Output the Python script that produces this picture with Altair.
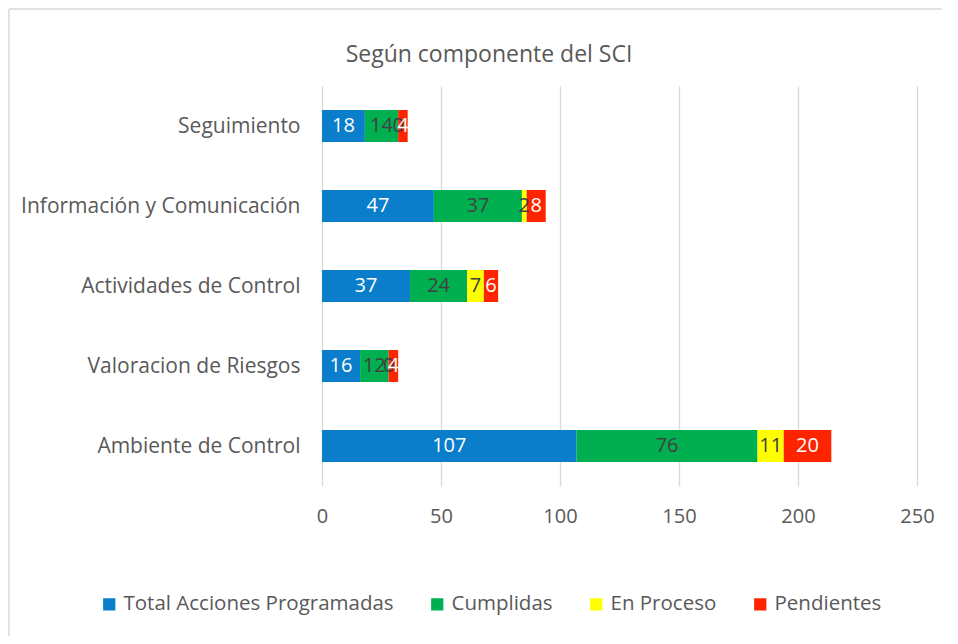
import altair as alt
import pandas as pd

categories = ["Seguimiento", "Información y Comunicación", "Actividades de Control",
              "Valoracion de Riesgos", "Ambiente de Control"]
series = ["Total Acciones Programadas", "Cumplidas", "En Proceso", "Pendientes"]
total = [18, 47, 37, 16, 107]
cumplidas = [14, 37, 24, 12, 76]
en_proceso = [0, 2, 7, 0, 11]
pendientes = [4, 8, 6, 4, 20]
colors = ["#0A7DCB", "#00B050", "#FFFF00", "#FF2400"]
label_colors = ["#FFFFFF", "#404040", "#404040", "#FFFFFF"]
x_ticks = [0, 50, 100, 150, 200, 250]
title_text = ["Según componente del SCI"]

rows = []
for i, c in enumerate(categories):
    for j, (s, v) in enumerate(zip(series, [total[i], cumplidas[i], en_proceso[i], pendientes[i]])):
        rows.append({"cat": c, "serie": s, "valor": v, "ord": j, "lc": label_colors[j]})
df = pd.DataFrame(rows)

FONT = "Open Sans"
GRAY = "#595959"

base = alt.Chart(df).transform_stack(
    stack="valor", groupby=["cat"], sort=[alt.SortField("ord")], as_=["x0", "x1"]
).transform_calculate(mid="(datum.x0 + datum.x1) / 2")

y_enc = alt.Y("cat:N", sort=categories, title=None,
              scale=alt.Scale(paddingInner=0.6, paddingOuter=0.3),
              axis=alt.Axis(domain=False, ticks=False, labelFontSize=21, labelColor=GRAY,
                            labelFont=FONT, labelPadding=22, labelLimit=400, labelOffset=1))
x_scale = alt.Scale(domain=[0, 250], nice=False)

bars = base.mark_bar().encode(
    x=alt.X("x0:Q", scale=x_scale, title=None,
            axis=alt.Axis(values=x_ticks, domain=False, ticks=False, grid=True,
                          gridColor="#D9D9D9", gridWidth=1.3, labelFontSize=20,
                          labelColor=GRAY, labelFont=FONT, labelPadding=20,
                          labelFlush=False)),
    x2="x1:Q",
    y=y_enc,
    color=alt.Color("serie:N", sort=series,
                    scale=alt.Scale(domain=series, range=colors),
                    legend=alt.Legend(title=None, orient="none", direction="horizontal",
                                      legendX=-223, legendY=508, symbolType="square",
                                      symbolSize=150, symbolStrokeWidth=0,
                                      labelFontSize=20.5, labelColor=GRAY, labelFont=FONT,
                                      labelLimit=400, columnPadding=33, symbolOffset=0,
                                      labelOffset=4)),
    order=alt.Order("ord:Q"),
)

texts = base.mark_text(fontSize=20, font=FONT, baseline="middle").encode(
    x=alt.X("mid:Q", scale=x_scale),
    y=alt.Y("cat:N", sort=categories),
    text=alt.Text("valor:Q"),
    color=alt.Color("lc:N", scale=None),
)

title = alt.Chart(pd.DataFrame({"t": title_text})).mark_text(
    fontSize=23, font=FONT, color=GRAY, baseline="middle", align="center"
).encode(text="t:N", x=alt.value(167), y=alt.value(-31))

frame = alt.Chart(pd.DataFrame({"k": [0]})).mark_rule(color="#D9D9D9", strokeWidth=1.5).encode(
    x=alt.value(-313), x2=alt.value(700), y=alt.value(-77)
)
frame2 = alt.Chart(pd.DataFrame({"k": [0]})).mark_rule(color="#D9D9D9", strokeWidth=1.5).encode(
    x=alt.value(-313), y=alt.value(-77), y2=alt.value(600)
)

chart = alt.layer(bars, texts, title, frame, frame2).properties(
    width=595, height=400,
    autosize=alt.AutoSizeParams(type="none"),
    padding={"left": 314, "top": 78, "right": 25, "bottom": 150},
).configure_view(stroke=None)

chart.save("out.html", embed_options={"renderer": "svg", "actions": False})
